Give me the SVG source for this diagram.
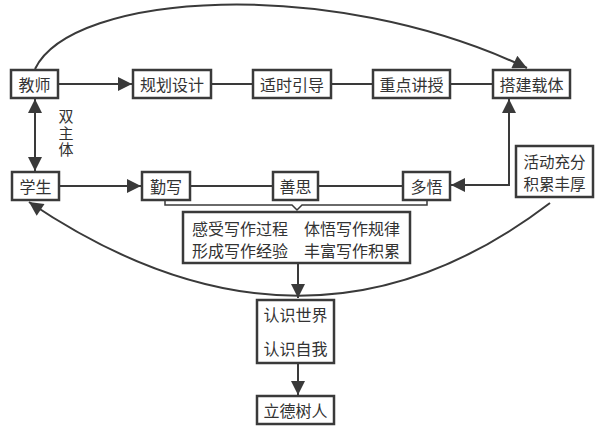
<svg xmlns="http://www.w3.org/2000/svg" width="597" height="429" viewBox="0 0 597 429">
<style>
.box{fill:#fff;stroke:#3a3a3a;stroke-width:2.5}
.t{font-family:"Noto Sans CJK SC","Noto Sans",sans-serif;font-size:16px;fill:#333;text-anchor:middle;dominant-baseline:central}
.ln{fill:none;stroke:#3a3a3a;stroke-width:2}
.thin{fill:none;stroke:#3a3a3a;stroke-width:1.5}
</style>
<defs>
<marker id="ah" viewBox="0 0 10 10" refX="10" refY="5" markerWidth="8" markerHeight="7" markerUnits="strokeWidth" orient="auto-start-reverse">
<path d="M0,0 L10,5 L0,10 z" fill="#3a3a3a"/>
</marker>
</defs>
<rect width="597" height="429" fill="#fff"/>
<g id="connectors">
<path class="ln" d="M35,69 C72,-8 330,-25 527,68" marker-end="url(#ah)"/>
<line class="ln" x1="58" y1="84" x2="132" y2="84" marker-end="url(#ah)"/>
<line class="ln" x1="211" y1="84" x2="253" y2="84"/>
<line class="ln" x1="331" y1="84" x2="373" y2="84"/>
<line class="ln" x1="450" y1="84" x2="493" y2="84"/>
<line class="ln" x1="35" y1="99" x2="35" y2="171" marker-start="url(#ah)" marker-end="url(#ah)"/>
<line class="ln" x1="59" y1="186" x2="141" y2="186" marker-end="url(#ah)"/>
<line class="ln" x1="190" y1="186" x2="273" y2="186"/>
<line class="ln" x1="318" y1="186" x2="403" y2="186"/>
<polyline class="ln" points="451,185 509,185 509,99" marker-start="url(#ah)" marker-end="url(#ah)"/>
<polyline class="thin" points="165,200 165,205 292,205 297,210 302,205 427,205 427,200"/>
<line class="ln" x1="298" y1="263" x2="298" y2="298" marker-end="url(#ah)"/>
<path class="ln" d="M550,203 Q306,389 29,202" marker-end="url(#ah)"/>
<line class="ln" x1="298" y1="363" x2="298" y2="395" marker-end="url(#ah)"/>
</g>
<g id="n-jiaoshi"><rect class="box" x="11" y="70" width="47" height="28"/><text class="t" x="34.5" y="84">教师</text></g>
<g id="n-guihua"><rect class="box" x="133" y="70" width="78" height="28"/><text class="t" x="172" y="84">规划设计</text></g>
<g id="n-shishi"><rect class="box" x="253" y="70" width="78" height="28"/><text class="t" x="292" y="84">适时引导</text></g>
<g id="n-zhongdian"><rect class="box" x="373" y="70" width="77" height="28"/><text class="t" x="411.5" y="84">重点讲授</text></g>
<g id="n-dajian"><rect class="box" x="493" y="70" width="77" height="28"/><text class="t" x="531.5" y="84">搭建载体</text></g>
<g id="l-shuangzhuti"><text class="t" x="66" y="134" style="writing-mode:vertical-rl;letter-spacing:1.5px;font-size:15px">双主体</text></g>
<g id="n-xuesheng"><rect class="box" x="12" y="172" width="47" height="28"/><text class="t" x="35.5" y="186">学生</text></g>
<g id="n-qinxie"><rect class="box" x="142" y="172" width="48" height="28"/><text class="t" x="166" y="186">勤写</text></g>
<g id="n-shansi"><rect class="box" x="273" y="172" width="45" height="28"/><text class="t" x="295.5" y="186">善思</text></g>
<g id="n-duowu"><rect class="box" x="403" y="172" width="47" height="28"/><text class="t" x="426.5" y="186">多悟</text></g>
<g id="n-huodong"><rect class="box" x="516" y="146" width="77" height="51"/><text class="t" x="554.5" y="160.5" style="font-size:15.5px">活动充分</text><text class="t" x="554.5" y="183" style="font-size:15.5px">积累丰厚</text></g>
<g id="n-ganshou"><rect class="box" x="183" y="212" width="227" height="51"/><text class="t" x="240" y="228">感受写作过程</text><text class="t" x="352" y="228">体悟写作规律</text><text class="t" x="240" y="250">形成写作经验</text><text class="t" x="352" y="250">丰富写作积累</text></g>
<g id="n-renshi"><rect class="box" x="257" y="300" width="77" height="63"/><text class="t" x="295.5" y="314">认识世界</text><text class="t" x="295.5" y="348">认识自我</text></g>
<g id="n-lide"><rect class="box" x="257" y="396" width="77" height="28"/><text class="t" x="295.5" y="410">立德树人</text></g>
</svg>
